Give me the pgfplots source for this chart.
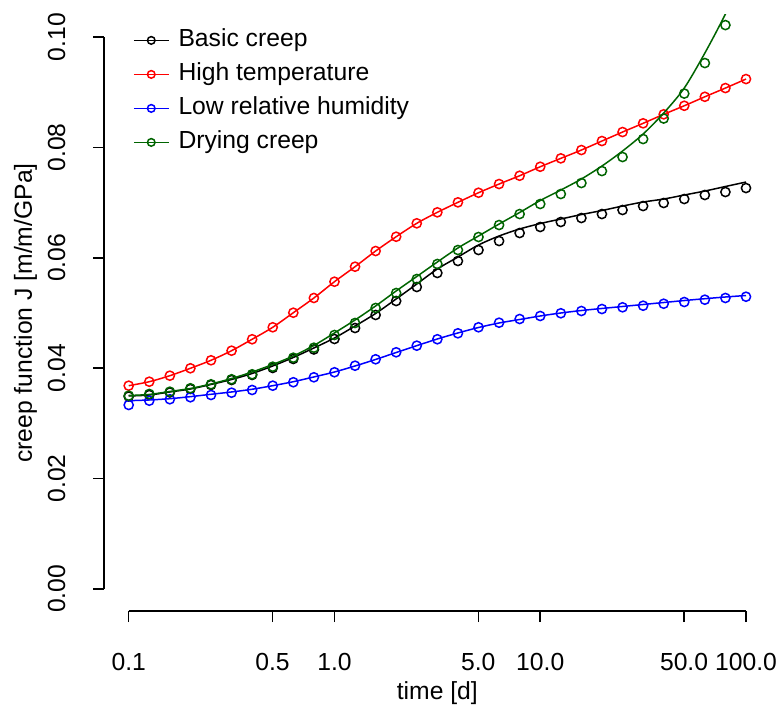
\documentclass[border=0pt]{standalone}
\usepackage{fontspec}
\setmainfont{Liberation Sans}
\usepackage{pgfplots}
\usepackage{pgfplotstable}
\pgfplotsset{compat=1.18}

\definecolor{rgreen}{RGB}{0,100,0}
\newcommand{\rfont}{\fontsize{12.35}{14.8}\selectfont}

% measured points: t [d], J for each test
\pgfplotstableread{
t      basic   high    low     dry
0.1000 0.03487 0.03683 0.03333 0.03502
0.1259 0.03514 0.03755 0.03411 0.03533
0.1585 0.03560 0.03864 0.03437 0.03574
0.1995 0.03623 0.03998 0.03473 0.03636
0.2512 0.03696 0.04143 0.03514 0.03708
0.3162 0.03786 0.04317 0.03556 0.03799
0.3981 0.03877 0.04524 0.03605 0.03889
0.5012 0.04004 0.04741 0.03683 0.04027
0.6310 0.04167 0.05005 0.03745 0.04190
0.7943 0.04339 0.05272 0.03835 0.04371
1.000  0.04529 0.05567 0.03926 0.04601
1.259  0.04728 0.05839 0.04045 0.04819
1.585  0.04964 0.06123 0.04161 0.05091
1.995  0.05217 0.06382 0.04288 0.05362
2.512  0.05471 0.06625 0.04408 0.05616
3.162  0.05725 0.06824 0.04524 0.05888
3.981  0.05942 0.07005 0.04632 0.06141
5.012  0.06141 0.07179 0.04741 0.06377
6.310  0.06304 0.07337 0.04824 0.06594
7.943  0.06449 0.07487 0.04891 0.06793
10.00  0.06558 0.07650 0.04946 0.06975
12.59  0.06649 0.07802 0.04995 0.07156
15.85  0.06721 0.07953 0.05036 0.07355
19.95  0.06793 0.08116 0.05072 0.07572
25.12  0.06866 0.08279 0.05103 0.07826
31.62  0.06938 0.08437 0.05132 0.08152
39.81  0.06993 0.08600 0.05168 0.08524
50.12  0.07065 0.08755 0.05199 0.08976
63.10  0.07138 0.08918 0.05241 0.09529
79.43  0.07192 0.09076 0.05272 0.10217
100.0  0.07264 0.09239 0.05295 nan
}\pts

% fitted curves
\pgfplotstableread{
t      basic   low     dry
0.1000 0.03496 0.03411 0.03505
0.1259 0.03514 0.03424 0.03524
0.1585 0.03569 0.03447 0.03578
0.1995 0.03623 0.03484 0.03632
0.2512 0.03705 0.03527 0.03714
0.3162 0.03795 0.03569 0.03813
0.3981 0.03904 0.03618 0.03931
0.5012 0.04040 0.03683 0.04067
0.6310 0.04194 0.03755 0.04221
0.7943 0.04366 0.03841 0.04411
1.000  0.04547 0.03931 0.04638
1.259  0.04764 0.04040 0.04873
1.585  0.04991 0.04158 0.05127
1.995  0.05254 0.04284 0.05399
2.512  0.05525 0.04408 0.05661
3.162  0.05797 0.04529 0.05924
3.981  0.06014 0.04638 0.06178
5.012  0.06232 0.04737 0.06395
6.310  0.06395 0.04819 0.06612
7.943  0.06522 0.04882 0.06821
10.00  0.06621 0.04946 0.07038
12.59  0.06703 0.05000 0.07228
15.85  0.06784 0.05045 0.07428
19.95  0.06857 0.05082 0.07663
25.12  0.06938 0.05118 0.07935
31.62  0.07011 0.05154 0.08243
39.81  0.07065 0.05190 0.08623
50.12  0.07138 0.05226 0.09076
63.10  0.07210 0.05259 0.09710
79.43  0.07292 0.05290 0.10417
100.0  0.07373 0.05317 0.11214
}\fits

\begin{document}
\begin{tikzpicture}
\path[use as bounding box] (0,0) rectangle (390.5pt,355.5pt);
\begin{axis}[
    at={(52pt,50pt)}, anchor=south west,
    scale only axis,
    width=333.35pt, height=298pt,
    xmode=log,
    xmin=0.0758578, xmax=131.826,
    ymin=-0.004, ymax=0.104,
    axis lines*=left,
    axis line style={draw=none},
    clip mode=individual,
    xtick={0.1,0.5,1,5,10,50,100},
    xticklabels={0.1,0.5,1.0,5.0,10.0,50.0,100.0},
    minor xtick={},
    ytick={0,0.02,0.04,0.06,0.08,0.1},
    yticklabels={0.00,0.02,0.04,0.06,0.08,0.10},
    tick align=outside,
    major tick length=5.5pt,
    tick style={line width=0.75pt, black},
    xticklabel style={font=\rfont, anchor=base},
    xticklabel shift=24.15pt,
    yticklabel style={font=\rfont, rotate=90, anchor=base},
    yticklabel shift=14pt,
    xlabel={time [d]},
    ylabel={creep function J [m/m/GPa]},
    xlabel style={font=\rfont, at={(axis description cs:0.5,-0.1477)}, anchor=base},
    ylabel style={font=\rfont, at={(axis description cs:-0.108,0.5)}, anchor=base, rotate=0},
    every axis plot/.append style={line width=0.75pt},
    legend cell align=left,
    legend style={at={(axis description cs:0.0435,0.977)}, anchor=north west,
        draw=none, fill=none, inner sep=0pt, outer sep=0pt, font=\rfont,
        row sep=5.3pt,
        nodes={inner sep=0pt, text height=9pt, text depth=2.7pt},
        /tikz/every odd column/.append style={column sep=4.5pt}},
    legend image code/.code={
        \draw[#1] (0pt,0pt) -- (17.5pt,0pt);
        \draw[#1, mark size=1.9pt] plot coordinates {(8.75pt,0pt)};
    },
]
% axis lines only across the tick range
\draw[line width=0.75pt] (axis cs:0.1,-0.004) -- (axis cs:100,-0.004);
\draw[line width=0.75pt] (axis cs:0.0758578,0) -- (axis cs:0.0758578,0.1);

\addplot[black, only marks, mark=o, mark size=2.3pt, forget plot] table[x=t, y=basic] {\pts};
\addplot[black, smooth, no marks, forget plot] table[x=t, y=basic] {\fits};
\addplot[red, only marks, mark=o, mark size=2.3pt, forget plot] table[x=t, y=high] {\pts};
\addplot[red, smooth, no marks, forget plot] table[x=t, y=high] {\pts};
\addplot[blue, only marks, mark=o, mark size=2.3pt, forget plot] table[x=t, y=low] {\pts};
\addplot[blue, smooth, no marks, forget plot] table[x=t, y=low] {\fits};
\addplot[rgreen, only marks, mark=o, mark size=2.3pt, forget plot] table[x=t, y=dry] {\pts};
\addplot[rgreen, smooth, no marks, forget plot] table[x=t, y=dry] {\fits};

\addlegendimage{black, mark=o, line width=0.75pt}
\addlegendentry{Basic creep}
\addlegendimage{red, mark=o, line width=0.75pt}
\addlegendentry{High temperature}
\addlegendimage{blue, mark=o, line width=0.75pt}
\addlegendentry{Low relative humidity}
\addlegendimage{rgreen, mark=o, line width=0.75pt}
\addlegendentry{Drying creep}
\end{axis}
\end{tikzpicture}
\end{document}
